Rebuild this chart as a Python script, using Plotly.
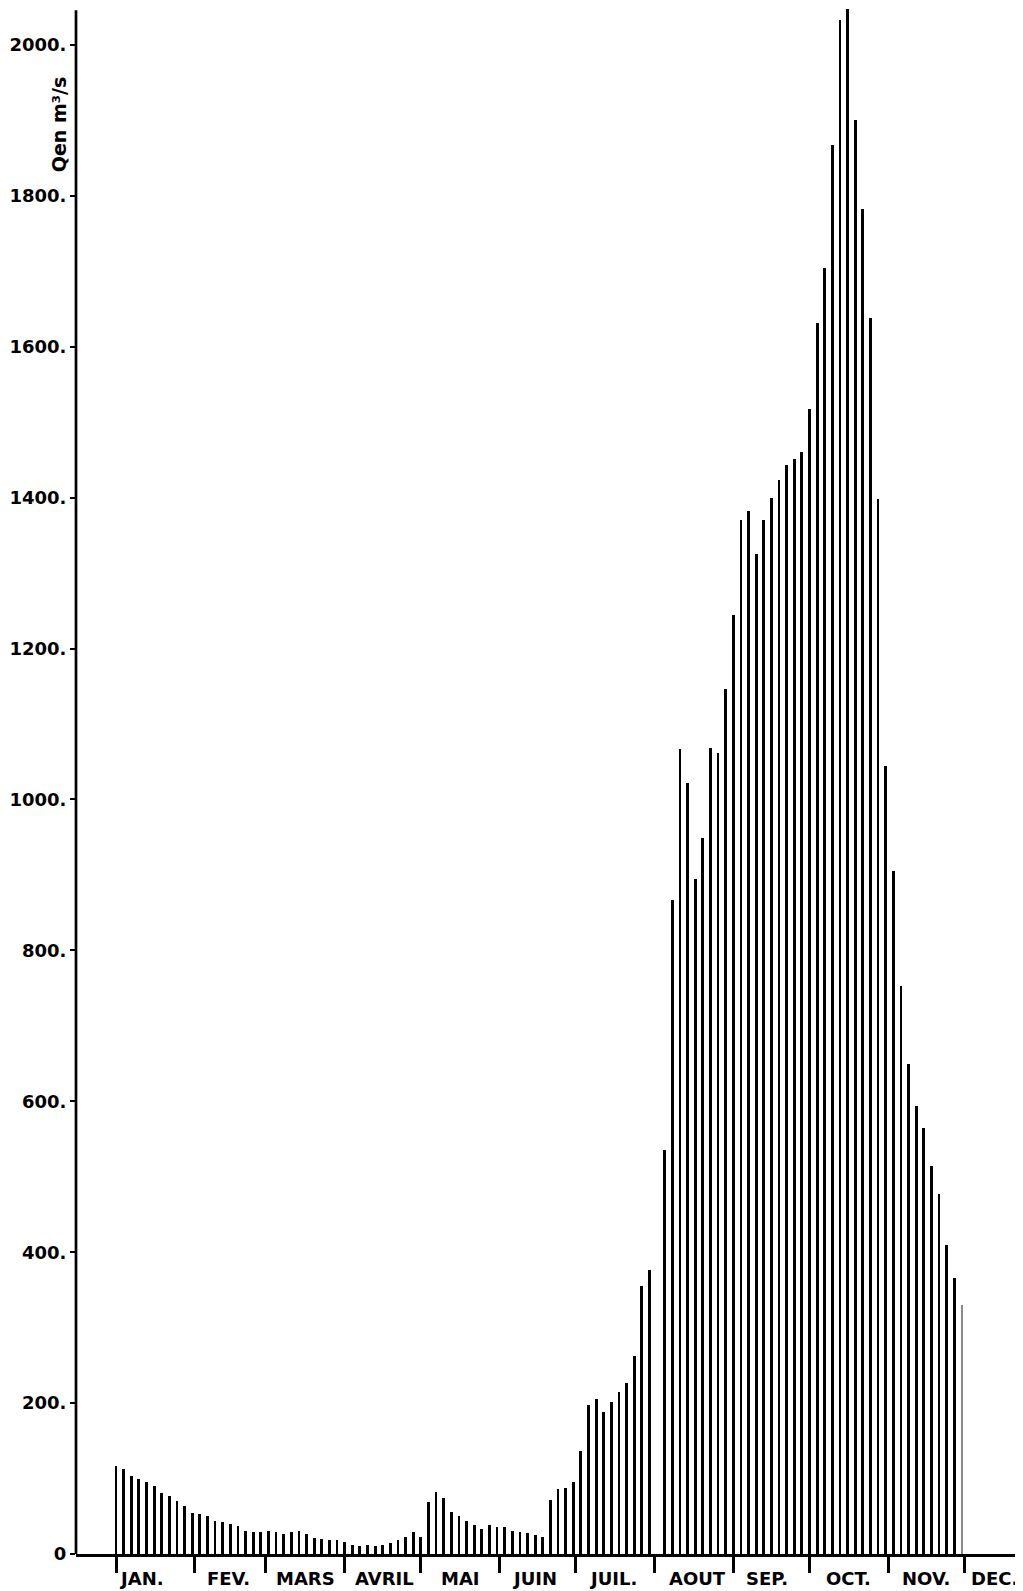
import plotly.graph_objects as go

# Discharge readings, one every 3 days from 1 January (day 0) to day 333
step_days = 3
discharge = [
    # JAN
    116, 113, 104, 99, 95, 90, 81, 77, 70, 64, 55,
    # FEV
    53, 51, 44, 42, 40, 37, 31, 29, 29,
    # MARS
    30, 29, 26, 29, 30, 27, 21, 20, 19, 18,
    # AVRIL
    16, 12, 11, 12, 10, 12, 15, 18, 22, 29,
    # MAI
    22, 69, 82, 74, 56, 51, 44, 38, 33, 39, 36,
    # JUIN
    36, 30, 29, 28, 25, 22, 72, 86, 88, 95,
    # JUIL
    137, 197, 205, 188, 202, 215, 227, 263, 355, 376,
    # AOUT (first reading missing)
    None, 536, 867, 1067, 1022, 895, 949, 1068, 1061, 1146,
    # SEP
    1244, 1370, 1383, 1326, 1370, 1400, 1423, 1443, 1451, 1460,
    # OCT
    1518, 1632, 1705, 1868, 2033, 2048, 1900, 1782, 1638, 1398,
    # NOV
    1045, 905, 753, 649, 594, 564, 514, 477, 410, 366, 330,
]
days = [i * step_days for i in range(len(discharge))]

month_names = ["JAN.", "FEV.", "MARS", "AVRIL", "MAI", "JUIN", "JUIL.",
               "AOUT", "SEP.", "OCT.", "NOV.", "DEC."]
month_lengths = [31, 28, 31, 30, 31, 30, 31, 31, 30, 31, 30, 31]

y_tick_values = [0, 200, 400, 600, 800, 1000, 1200, 1400, 1600, 1800, 2000]
y_tick_labels = ["0", "200.", "400.", "600.", "800.", "1000.", "1200.",
                 "1400.", "1600.", "1800.", "2000."]

month_starts = [0]
for n in month_lengths:
    month_starts.append(month_starts[-1] + n)
month_mids = [(month_starts[i] + month_starts[i + 1]) / 2 for i in range(12)]
# small horizontal nudges (pixels) of the hand-lettered month names
label_nudge = [-14, -2, 0, 2, 0, -3, -2, 4, -4, 0, 0, -9]

bar_colors = ["black"] * len(discharge)
bar_colors[-1] = "#8a8a8a"

fig = go.Figure()
fig.add_trace(go.Bar(
    x=days, y=discharge, width=1.1,
    marker=dict(color=bar_colors, line=dict(width=0)),
    showlegend=False, hoverinfo="x+y",
))

font_main = dict(family="DejaVu Sans", size=18, color="black", weight="bold")

fig.update_layout(
    width=1023, height=1591,
    margin=dict(l=68, r=0, t=0, b=45),
    paper_bgcolor="white", plot_bgcolor="white",
    bargap=0,
    xaxis=dict(
        range=[-15.75, 360.2], showgrid=False, zeroline=False,
        showline=True, linecolor="black", linewidth=2.5,
        tickmode="array", tickvals=month_starts[:12],
        ticktext=[""] * 12, ticks="outside", ticklen=16,
        tickwidth=2.5, tickcolor="black",
    ),
    yaxis=dict(
        range=[0, 2049], showgrid=False, zeroline=False, showline=False,
        tickmode="array", tickvals=y_tick_values, ticktext=y_tick_labels,
        ticks="outside", ticklen=5, tickwidth=2, tickcolor="black",
        tickfont=font_main,
    ),
)

# vertical axis line (runs up to the top of the sheet)
fig.add_shape(type="line", xref="paper", yref="y", x0=0, x1=0,
              y0=0, y1=2046, line=dict(color="black", width=2.7))

for name, mid, nudge in zip(month_names, month_mids, label_nudge):
    fig.add_annotation(x=mid, xref="x", y=0, yref="paper", text=name,
                       showarrow=False, yanchor="middle", yshift=-24,
                       xshift=nudge,
                       font=dict(family="DejaVu Sans", size=18,
                                 color="black", weight="bold"))

fig.add_annotation(x=0, xref="paper", y=1895, yref="y", text="Qen m³/s",
                   textangle=-90, showarrow=False, xanchor="center",
                   yanchor="middle", xshift=-17,
                   font=dict(family="DejaVu Sans", size=19, color="black",
                             weight="bold"))

fig.write_html("out.html")
